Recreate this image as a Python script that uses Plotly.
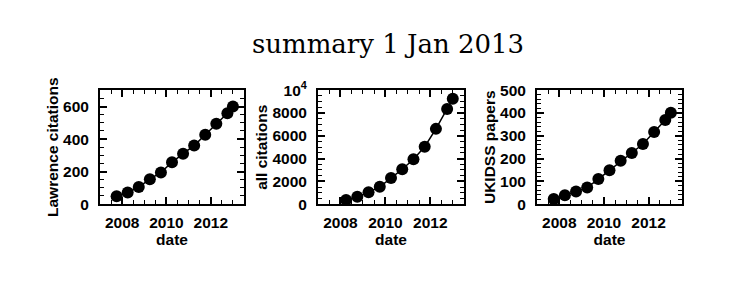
import plotly.graph_objects as go

# ---- data ----
dates_a = [2007.75, 2008.25, 2008.75, 2009.25, 2009.75, 2010.25, 2010.75,
           2011.25, 2011.75, 2012.25, 2012.75, 2013.0]
lawrence_citations = [48, 71, 105, 153, 195, 257, 310, 360, 427, 494, 559, 601]

dates_b = [2008.25, 2008.75, 2009.25, 2009.75, 2010.25, 2010.75,
           2011.25, 2011.75, 2012.25, 2012.75, 2013.0]
all_citations = [360, 640, 1050, 1520, 2290, 3060, 3940, 5040, 6610, 8350, 9260]

dates_c = [2007.75, 2008.25, 2008.75, 2009.25, 2009.75, 2010.25, 2010.75,
           2011.25, 2011.75, 2012.25, 2012.75, 2013.0]
ukidss_papers = [22, 39, 55, 73, 110, 149, 190, 225, 264, 317, 369, 401]

x_tickvals = [2008, 2010, 2012]
x_ticktext = ["2008", "2010", "2012"]

y1_tickvals = [0, 200, 400, 600]
y2_tickvals = [0, 2000, 4000, 6000, 8000, 10000]
y2_ticktext = ["0", "2000", "4000", "6000", "8000", "10<sup>4</sup>"]
y3_tickvals = [0, 100, 200, 300, 400, 500]

title_text = "summary 1 Jan 2013"
ytitles = ["Lawrence citations", "all citations", "UKIDSS papers"]

# ---- figure ----
W, H = 742, 283
fig = go.Figure()

series = [(dates_a, lawrence_citations), (dates_b, all_citations), (dates_c, ukidss_papers)]
for i, (xs, ys) in enumerate(series):
    sfx = "" if i == 0 else str(i + 1)
    fig.add_trace(go.Scatter(
        x=xs, y=ys, mode="lines+markers",
        line=dict(color="black", width=1.5),
        marker=dict(color="black", size=12),
        xaxis="x" + sfx, yaxis="y" + sfx, showlegend=False,
        cliponaxis=False,
    ))

lab_font = dict(family="Liberation Sans, Arial, sans-serif", size=15.5, color="black", weight="bold")

xdoms = [(100, 244), (318, 464), (537, 682)]
ytop, ybot = 85, 207
ydom = [1 - ybot / H, 1 - ytop / H]

yranges = [[0, 700], [0, 10000], [0, 500]]
yticks = [(y1_tickvals, [str(v) for v in y1_tickvals], 50),
          (y2_tickvals, y2_ticktext, 500),
          (y3_tickvals, [str(v) for v in y3_tickvals], 20)]

layout = dict(
    width=W, height=H,
    margin=dict(l=0, r=0, t=0, b=0),
    paper_bgcolor="white", plot_bgcolor="white",
    title=dict(text=title_text, x=388 / W, xanchor="center", y=1 - 44 / H, yanchor="middle",
               font=dict(family="DejaVu Serif, serif", size=26, color="black")),
)

for i in range(3):
    sfx = "" if i == 0 else str(i + 1)
    xd = xdoms[i]
    tv, tt, minor_dt = yticks[i]
    layout["xaxis" + sfx] = dict(
        domain=[xd[0] / W, xd[1] / W], range=[2007, 2013.5],
        anchor="y" + sfx,
        tickmode="array", tickvals=x_tickvals, ticktext=x_ticktext,
        ticks="inside", ticklen=7, tickwidth=1.5, tickcolor="black",
        minor=dict(dtick=0.5, tick0=2007, ticks="inside", ticklen=4, tickwidth=1.2, tickcolor="black"),
        showline=True, linecolor="black", linewidth=2, mirror="ticks",
        showgrid=False, zeroline=False,
        tickfont=lab_font, ticklabelstandoff=3,
        title=dict(text="date", font=lab_font, standoff=0),
    )
    layout["yaxis" + sfx] = dict(
        domain=ydom, range=yranges[i],
        anchor="x" + sfx,
        tickmode="array", tickvals=tv, ticktext=tt,
        ticks="inside", ticklen=7, tickwidth=1.5, tickcolor="black",
        minor=dict(dtick=minor_dt, tick0=0, ticks="inside", ticklen=4, tickwidth=1.2, tickcolor="black"),
        showline=True, linecolor="black", linewidth=2, mirror="ticks",
        showgrid=False, zeroline=False,
        tickfont=lab_font, ticklabelstandoff=6,
        title=dict(text=ytitles[i], font=lab_font, standoff=1),
    )

fig.update_layout(**layout)
fig.write_html("out.html")
